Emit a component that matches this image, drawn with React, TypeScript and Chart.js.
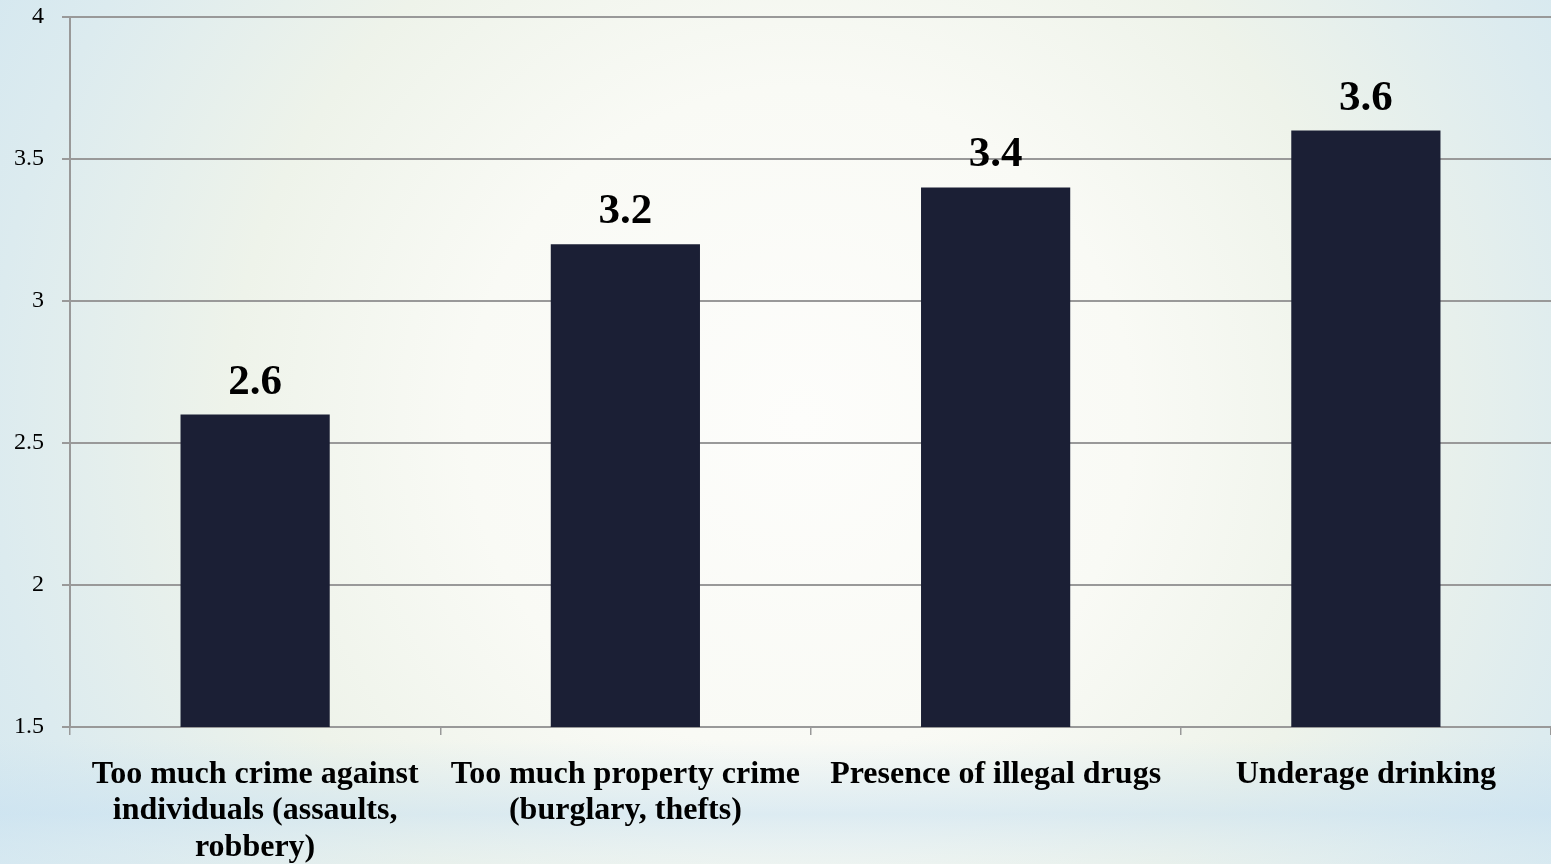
import React, { useEffect, useRef } from "react";
import { Chart, registerables } from "chart.js";

Chart.register(...registerables);

const categories: string[][] = [
  ["Too much crime against", "individuals (assaults,", "robbery)"],
  ["Too much property crime", "(burglary, thefts)"],
  ["Presence of illegal drugs"],
  ["Underage drinking"],
];
const values: number[] = [2.6, 3.2, 3.4, 3.6];
const yMin = 1.5;
const yMax = 4;
const yStep = 0.5;

const SERIF = "'Liberation Serif', 'Times New Roman', serif";

const backgroundPlugin = {
  id: "bgPlugin",
  beforeDraw(chart: any) {
    const { ctx, width, height } = chart;
    ctx.save();
    const g = ctx.createRadialGradient(800, 420, 0, 800, 420, 950);
    g.addColorStop(0, "#fdfdfb");
    g.addColorStop(0.35, "#f9faf5");
    g.addColorStop(0.6, "#eef3ea");
    g.addColorStop(0.85, "#dcebef");
    g.addColorStop(1, "#d3e7f0");
    ctx.fillStyle = g;
    ctx.fillRect(0, 0, width, height);
    const b = ctx.createLinearGradient(0, 740, 0, 864);
    b.addColorStop(0, "rgba(200,225,240,0)");
    b.addColorStop(0.6, "rgba(200,225,242,0.55)");
    b.addColorStop(1, "rgba(215,233,243,0.25)");
    ctx.fillStyle = b;
    ctx.fillRect(0, 740, width, 124);
    ctx.restore();
  },
};

const valueLabelPlugin = {
  id: "valueLabels",
  afterDatasetsDraw(chart: any) {
    const { ctx } = chart;
    const meta = chart.getDatasetMeta(0);
    ctx.save();
    ctx.font = `bold 43px ${SERIF}`;
    ctx.fillStyle = "#000";
    ctx.textAlign = "center";
    ctx.textBaseline = "alphabetic";
    meta.data.forEach((bar: any, i: number) => {
      ctx.fillText(String(values[i]), bar.x, bar.y - 21);
    });
    ctx.restore();
  },
};

export default function App() {
  const ref = useRef<HTMLCanvasElement>(null);
  useEffect(() => {
    document.body.style.margin = "0";
    const chart = new Chart(ref.current!, {
      type: "bar",
      data: {
        labels: categories,
        datasets: [
          {
            data: values,
            backgroundColor: "#1b1f35",
            categoryPercentage: 1,
            barPercentage: 0.403,
          },
        ],
      },
      options: {
        animation: false,
        responsive: false,
        maintainAspectRatio: false,
        layout: { padding: { top: 17, right: 0, left: 0, bottom: 0 } },
        plugins: { legend: { display: false }, tooltip: { enabled: false } },
        scales: {
          x: {
            offset: true,
            grid: {
              display: true,
              drawOnChartArea: false,
              drawTicks: true,
              tickLength: 8,
              color: "#999999",
              lineWidth: 1.5,
            },
            border: { display: true, color: "#999999", width: 2 },
            ticks: {
              color: "#000",
              font: { family: SERIF, size: 32, weight: "bold", lineHeight: 1.15 },
              padding: 21,
              maxRotation: 0,
              autoSkip: false,
            },
            afterFit(scale: any) {
              scale.height = 137;
              scale.paddingTop = 0;
              scale.paddingLeft = 0;
              scale.paddingRight = 0;
            },
          },
          y: {
            min: yMin,
            max: yMax,
            ticks: {
              stepSize: yStep,
              color: "#000",
              font: { family: SERIF, size: 24 },
              padding: 18,
              callback: (v: any) => String(Number(v)),
            },
            grid: {
              color: "#999999",
              lineWidth: 2,
              tickLength: 8,
            },
            border: { display: true, color: "#999999", width: 2 },
            afterFit(scale: any) {
              scale.width = 70;
              scale.paddingTop = 0;
              scale.paddingBottom = 0;
            },
          },
        },
      },
      plugins: [backgroundPlugin, valueLabelPlugin],
    });
    return () => chart.destroy();
  }, []);
  return (
    <div style={{ position: "fixed", left: 0, top: 0, width: 1551, height: 864 }}>
      <canvas ref={ref} width={1551} height={864} style={{ display: "block" }} />
    </div>
  );
}
